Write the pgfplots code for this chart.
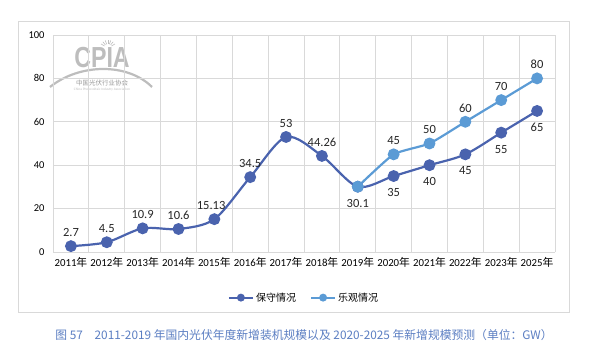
\documentclass[border=0pt]{standalone}
\usepackage{fontspec}
\setmainfont{Carlito}
\newfontfamily\cjk{Noto Sans CJK SC}
\newfontfamily\logofont{Liberation Sans}
\usepackage{pgfplots}
\pgfplotsset{compat=1.18}
\definecolor{cons}{HTML}{4A63AE}
\definecolor{opt}{HTML}{5B9BD5}
\definecolor{gridc}{HTML}{D9D9D9}
\definecolor{capc}{HTML}{5B7EC2}
\definecolor{logoc}{HTML}{BDBDBD}
\newcommand\nian{{\cjk 年}}
\begin{document}
\begin{tikzpicture}[x=1pt,y=1pt]
\path[use as bounding box] (0,0) rectangle (591,355);
\draw[gridc, line width=1pt] (18,42) rectangle (569,333);
% logo
\node[logoc, font=\logofont\bfseries\fontsize{29}{29}\selectfont, xscale=0.8] at (102,297) {CPIA};
\draw[logoc, line width=2.2pt] (50,268) .. controls (80,292) and (128,292) .. (152,268);
\foreach \a in {30,50,...,150} {\draw[logoc, line width=0.6pt] (108,307)+(\a:4) -- +(\a:8);}
\node[gray!80, font=\cjk\fontsize{6.5}{6.5}\selectfont] at (102,272) {中国光伏行业协会};
\node[logoc, font=\fontsize{3.5}{3.5}\selectfont] at (102,265) {China Photovoltaic Industry Association};
\begin{axis}[at={(53pt,103pt)}, anchor=south west, scale only axis, width=502pt, height=217pt,
  xmin=-0.5, xmax=13.5, ymin=0, ymax=100, ytick={0,20,...,100},
  xtick={0,...,13},
  xticklabels={2011\nian,2012\nian,2013\nian,2014\nian,2015\nian,2016\nian,2017\nian,2018\nian,2019\nian,2020\nian,2021\nian,2022\nian,2023\nian,2025\nian},
  minor xtick={-0.5,0.5,...,13.5}, xminorgrids, ymajorgrids,
  grid style={gridc, line width=0.9pt},
  minor grid style={gridc, line width=0.9pt},
  axis line style={draw=none},
  major tick style={draw=none}, minor tick style={draw=none},
  /pgf/number format/assume math mode=true,
  yticklabel style={font=\fontsize{10.5}{11}\selectfont, xshift=-5pt},
  xticklabel style={font=\fontsize{10.8}{11}\selectfont, yshift=-2pt},
  legend style={at={(0.5,-0.168)}, anchor=north, draw=none, legend columns=2,
    font=\cjk\fontsize{10}{11}\selectfont, /tikz/every even column/.append style={column sep=12pt}},
  legend image code/.code={\draw[#1, line width=2pt] (0,0) -- (0.85cm,0); \fill[#1] (0.425cm,0) circle (2.8pt);},
  clip=false,
]
\addplot[cons, line width=2.2pt, smooth, tension=0.5, mark=*, mark size=4.8pt] coordinates {
(0,2.7) (1,4.5) (2,10.9) (3,10.6) (4,15.13) (5,34.5) (6,53) (7,44.26) (8,30.1) (9,35) (10,40) (11,45) (12,55) (13,65)};
\addlegendentry{保守情况}
\addplot[opt, line width=2.2pt, smooth, tension=0.3, mark=*, mark size=4.8pt] coordinates {
(8,30.1) (9,45) (10,50) (11,60) (12,70) (13,80)};
\addlegendentry{乐观情况}
% labels
\addplot[draw=none, mark=none, forget plot, point meta=explicit symbolic, nodes near coords,
  every node near coord/.append style={anchor=south, yshift=6pt, font=\fontsize{12.5}{13}\selectfont, text=black!85}]
 coordinates {(0,2.7)[2.7] (1,4.5)[4.5] (2,10.9)[10.9] (3,10.6)[10.6] (3.91,15.13)[15.13] (5,34.5)[34.5] (6,53)[53] (7,44.26)[44.26]
 (9,45)[45] (10,50)[50] (11,60)[60] (12,70)[70] (13,80)[80]};
\addplot[draw=none, mark=none, forget plot, point meta=explicit symbolic, nodes near coords,
  every node near coord/.append style={anchor=north, yshift=-9pt, font=\fontsize{12.5}{13}\selectfont, text=black!85}]
 coordinates {(8,30.1)[30.1] (9,35)[35] (10,40)[40] (11,45)[45] (12,55)[55] (13,65)[65]};
\end{axis}
\node[capc, font=\cjk\fontsize{11.8}{13}\selectfont] at (304,20) {图 57\quad 2011-2019 年国内光伏年度新增装机规模以及 2020-2025 年新增规模预测（单位：GW）};
\end{tikzpicture}
\end{document}
